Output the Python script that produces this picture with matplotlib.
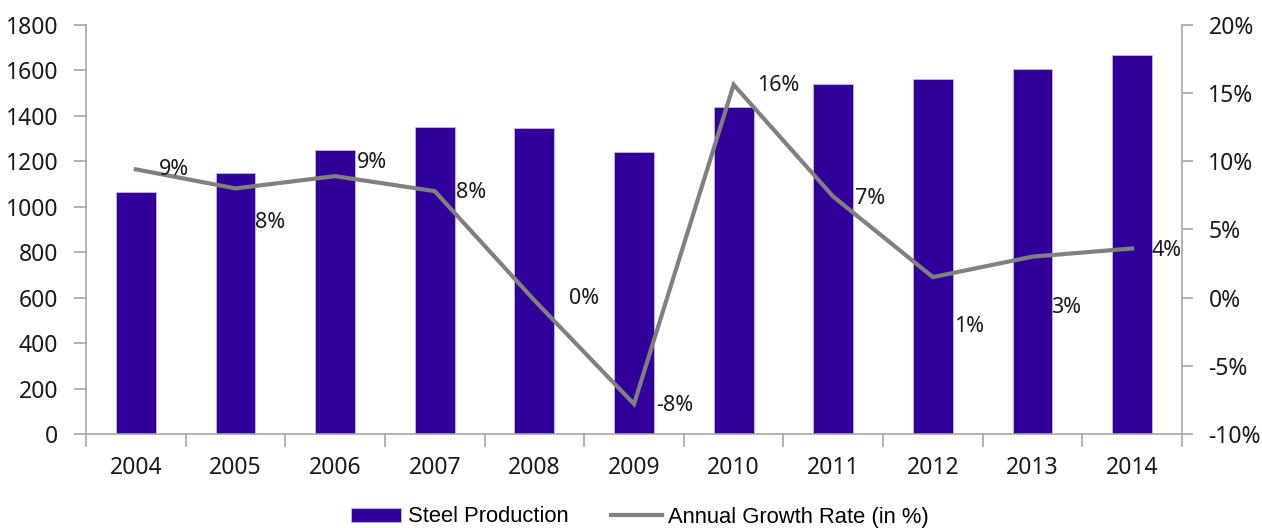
import matplotlib
matplotlib.use("Agg")
import matplotlib.pyplot as plt
from matplotlib.ticker import FixedLocator, NullFormatter

years = ["2004", "2005", "2006", "2007", "2008", "2009",
         "2010", "2011", "2012", "2013", "2014"]
steel_production = [1064, 1146, 1249, 1349, 1344, 1239,
                    1437, 1539, 1561, 1605, 1665]
growth_rate = [9.4, 8.0, 8.9, 7.8, -0.2, -7.8, 15.6, 7.4, 1.5, 3.0, 3.6]
growth_labels = ["9%", "8%", "9%", "8%", "0%", "-8%",
                 "16%", "7%", "1%", "3%", "4%"]

# label offsets in pixels (dx, dy) from each line point
label_offsets = [(23, 0), (20, -34), (22, 14), (21, -1), (35, 2), (22, -2),
                 (23, -1), (22, -2), (21, -49), (19, -51), (19, -2)]

BAR_COLOR = "#31009A"
LINE_COLOR = "#808080"
SPINE_COLOR = "#a6a6a6"
TEXT_COLOR = "#1a1a1a"

plt.rcParams["font.family"] = ["Noto Sans", "DejaVu Sans"]

fig = plt.figure(figsize=(12.62, 5.28), dpi=100)
ax = fig.add_axes([86 / 1262, 1 - 434 / 528, (1182 - 86) / 1262, (434 - 24.7) / 528])
ax2 = ax.twinx()

x = list(range(len(years)))
bars = ax.bar(x, steel_production, width=0.4, color=BAR_COLOR,
              edgecolor="#c4b8ea", linewidth=0.6, label="Steel Production", zorder=2)

ax.set_xlim(-0.5, len(years) - 0.5)
ax.set_ylim(0, 1800)
ax.set_yticks(range(0, 1801, 200))
ax.set_xticks(x)
ax.set_xticklabels(years)
ax.xaxis.set_minor_locator(FixedLocator([i - 0.5 for i in range(len(years) + 1)]))
ax.xaxis.set_minor_formatter(NullFormatter())
ax.tick_params(axis="x", which="major", length=0, pad=16, labelsize=16.5, labelcolor=TEXT_COLOR)
ax.tick_params(axis="x", which="minor", length=9, width=1.2, color=SPINE_COLOR, direction="out")
ax.tick_params(axis="y", length=9, width=1.2, color=SPINE_COLOR, pad=11,
               labelsize=16.5, labelcolor=TEXT_COLOR)

line, = ax2.plot(x, growth_rate, color=LINE_COLOR, linewidth=3.0,
                 solid_joinstyle="miter", label="Annual Growth Rate (in %)", zorder=3)
ax2.set_ylim(-10, 20)
ax2.set_yticks(range(-10, 21, 5))
ax2.set_yticklabels([f"{v}%" for v in range(-10, 21, 5)])
ax2.tick_params(axis="y", length=8, width=1.2, color=SPINE_COLOR, pad=11,
                labelsize=16.5, labelcolor=TEXT_COLOR)

for xi, yi, txt, (dx, dy) in zip(x, growth_rate, growth_labels, label_offsets):
    ax2.annotate(txt, (xi, yi), xytext=(dx, dy), textcoords="offset pixels",
                 ha="left", va="center", fontsize=15.5, color=TEXT_COLOR, zorder=4)

for a in (ax, ax2):
    a.spines["top"].set_visible(False)
    for s in ("left", "right", "bottom"):
        a.spines[s].set_color(SPINE_COLOR)
        a.spines[s].set_linewidth(1.2)
ax.spines["right"].set_visible(False)
ax2.spines["left"].set_visible(False)
ax2.spines["bottom"].set_visible(False)

fig.legend(handles=[bars, line], labels=["Steel Production", "Annual Growth Rate (in %)"],
           loc="center", bbox_to_anchor=(640 / 1262, 1 - 517 / 528), ncol=2,
           frameon=False, handlelength=2.3, handleheight=0.6, handletextpad=0.3,
           columnspacing=1.95, borderaxespad=0,
           prop={"family": "Liberation Sans", "size": 15.8})

fig.savefig("out.png", dpi=100)
